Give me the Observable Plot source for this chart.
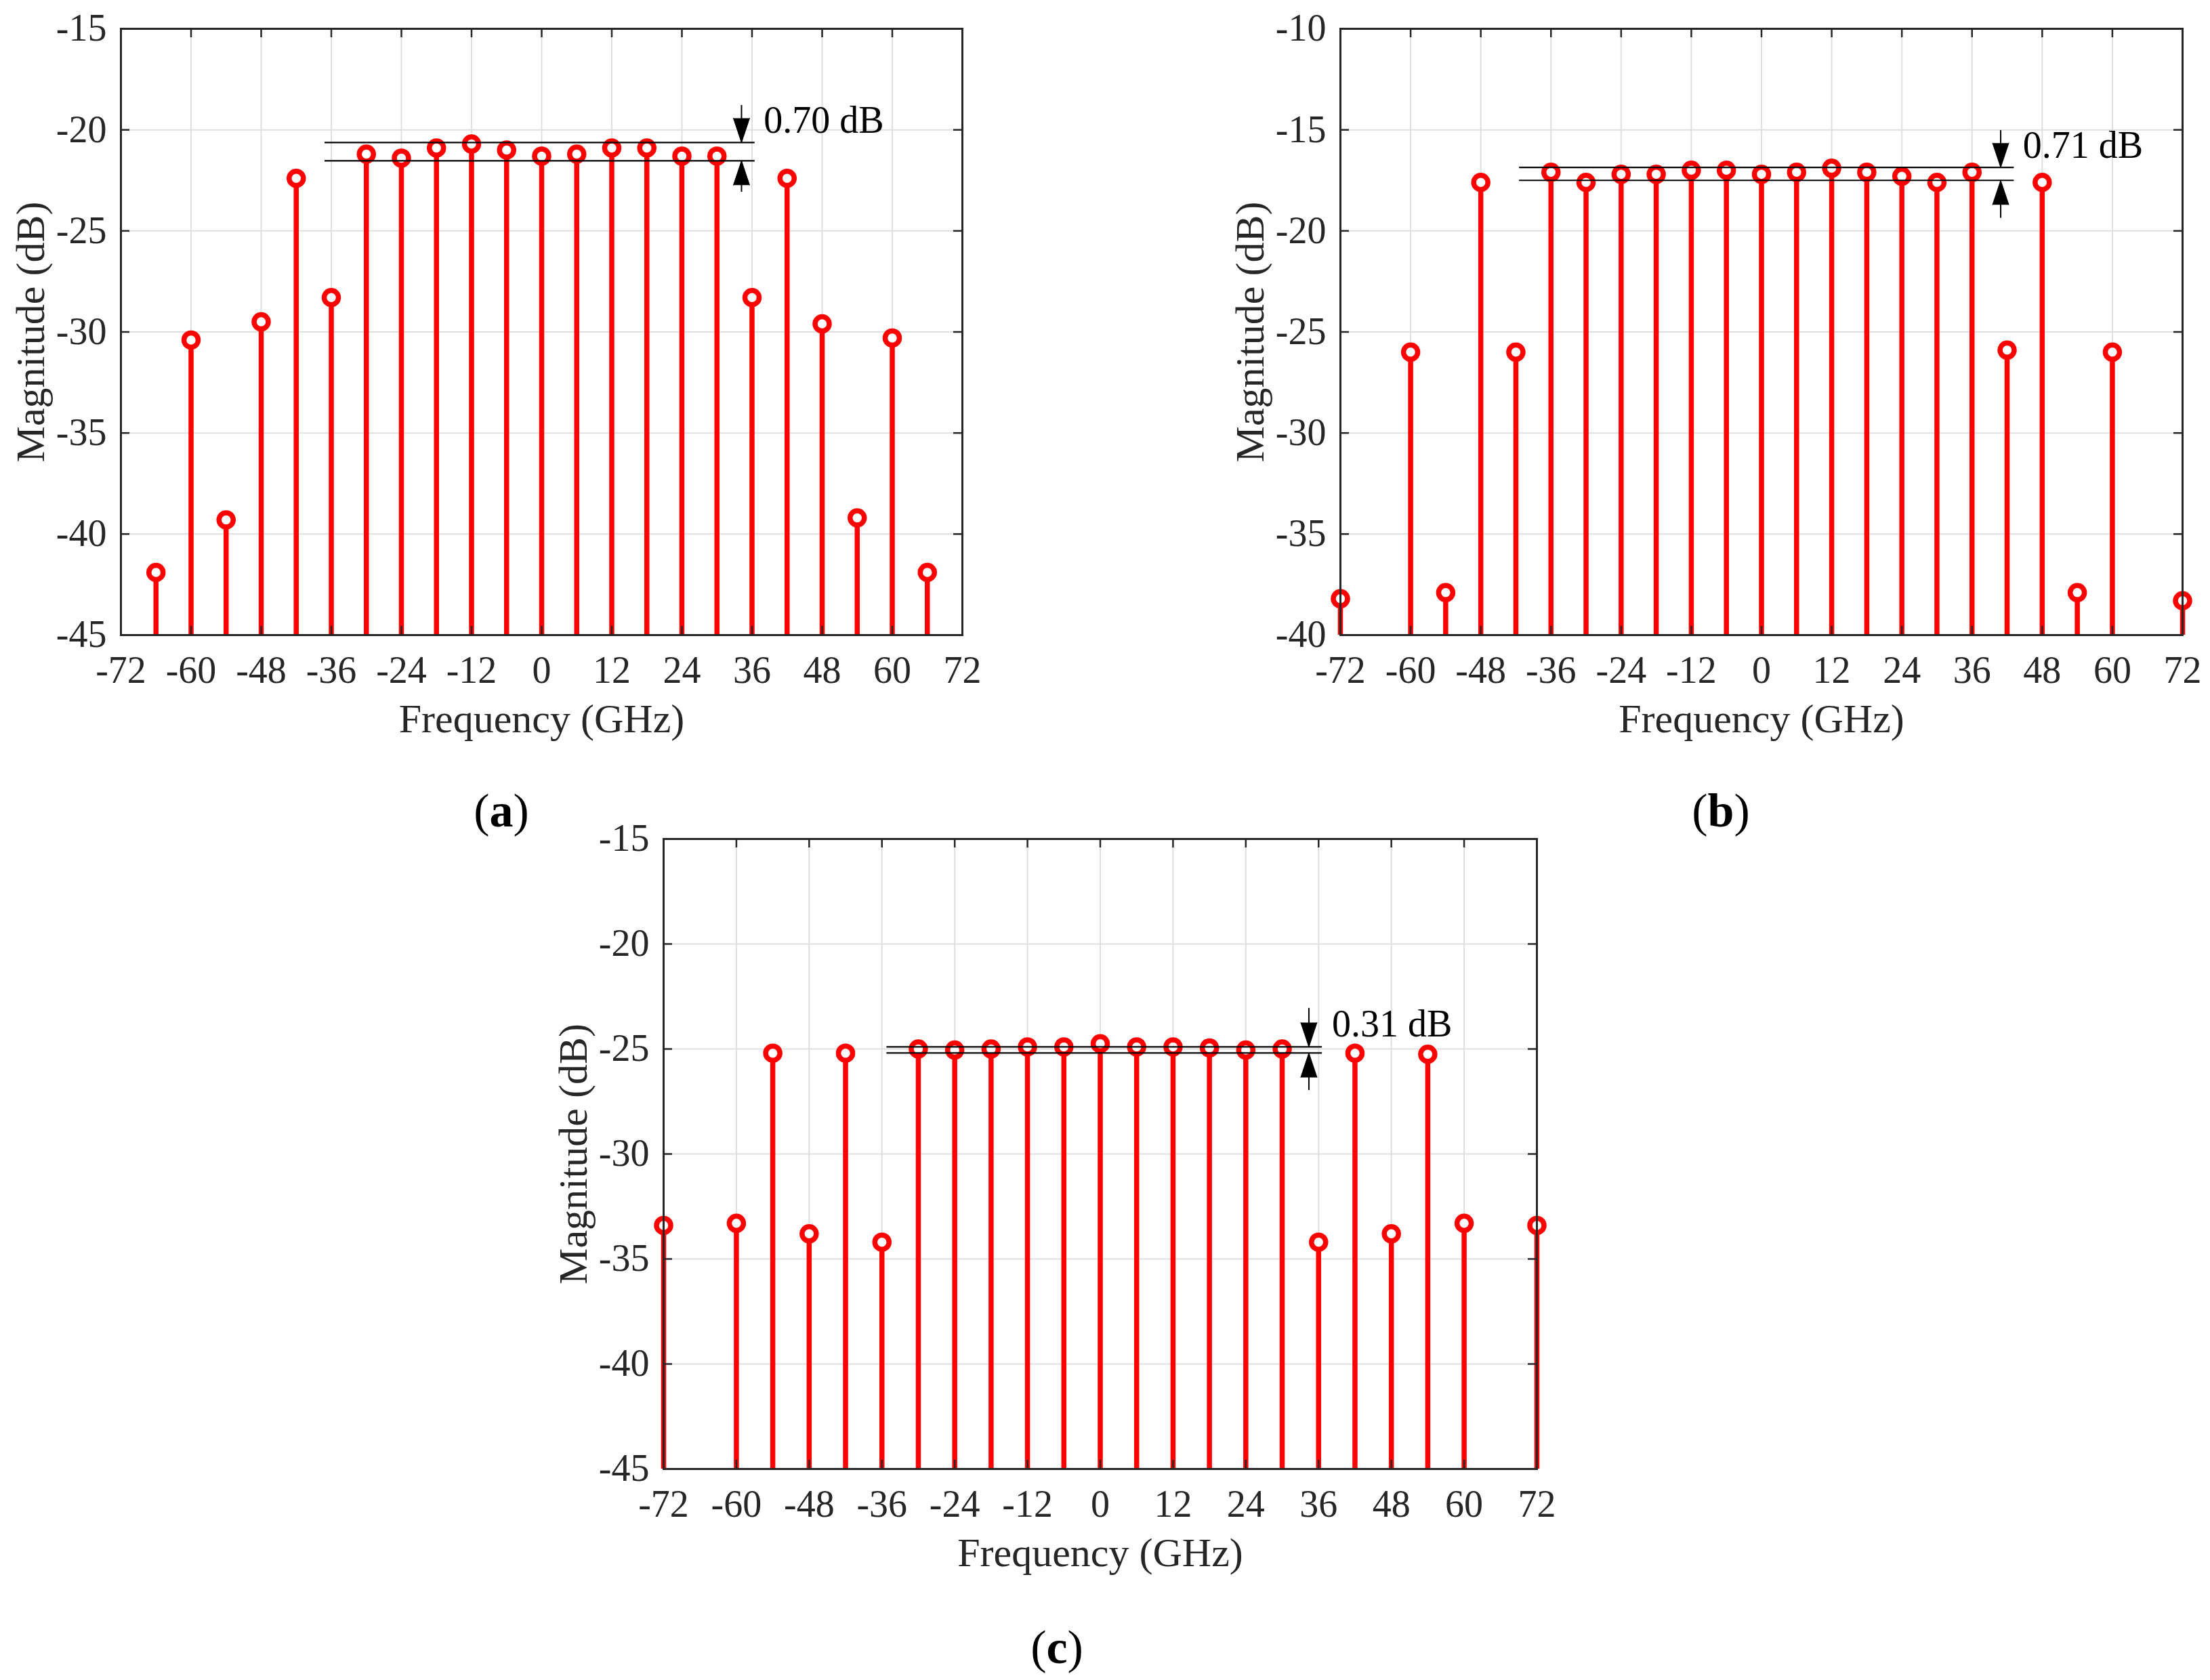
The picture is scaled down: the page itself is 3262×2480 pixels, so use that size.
<!DOCTYPE html>
<html>
<head>
<meta charset="utf-8">
<script src="https://cdn.jsdelivr.net/npm/d3@7"></script>
<script src="https://cdn.jsdelivr.net/npm/@observablehq/plot@0.6"></script>
<style>
  html, body { margin: 0; padding: 0; background: #fff; }
  #page { position: relative; width: 3262px; height: 2480px; background: #fff; overflow: hidden;
          font-family: "Liberation Serif", "Times New Roman", serif; }
  .panel { position: absolute; }
  .cap { position: absolute; font-size: 70px; color: #000; transform: translate(-50%, -50%);
         white-space: nowrap; font-family: "Liberation Serif", "Times New Roman", serif; line-height: 1; }
  .cap b { font-weight: bold; }
</style>
</head>
<body>
<div id="page"></div>
<script>
// ---------- data ----------
const xTicks = [-72, -60, -48, -36, -24, -12, 0, 12, 24, 36, 48, 60, 72];

const freqA = [-66, -60, -54, -48, -42, -36, -30, -24, -18, -12, -6, 0, 6, 12, 18, 24, 30, 36, 42, 48, 54, 60, 66];
const magA  = [-41.9, -30.4, -39.3, -29.5, -22.4, -28.3, -21.2, -21.4, -20.9, -20.7, -21.0, -21.3, -21.2, -20.9, -20.9, -21.3, -21.3, -28.3, -22.4, -29.6, -39.2, -30.3, -41.9];
const yTicksA = [-45, -40, -35, -30, -25, -20, -15];

const freqB = [-72, -60, -54, -48, -42, -36, -30, -24, -18, -12, -6, 0, 6, 12, 18, 24, 30, 36, 42, 48, 54, 60, 72];
const magB  = [-38.2, -26.0, -37.9, -17.6, -26.0, -17.1, -17.6, -17.2, -17.2, -17.0, -17.0, -17.2, -17.1, -16.9, -17.1, -17.3, -17.6, -17.1, -25.9, -17.6, -37.9, -26.0, -38.3];
const yTicksB = [-40, -35, -30, -25, -20, -15, -10];

const freqC = [-72, -60, -54, -48, -42, -36, -30, -24, -18, -12, -6, 0, 6, 12, 18, 24, 30, 36, 42, 48, 54, 60, 72];
const magC  = [-33.4, -33.3, -25.2, -33.8, -25.2, -34.2, -25.0, -25.05, -25.0, -24.9, -24.9, -24.75, -24.9, -24.9, -24.95, -25.05, -25.0, -34.2, -25.2, -33.8, -25.25, -33.3, -33.4];
const yTicksC = [-45, -40, -35, -30, -25, -20, -15];

// ripple annotations: [upper level, lower level], line span, arrow x + tail ends, label
const levelsA = [-20.63, -21.53]; const spanA = [-37.1, 36.5]; const arrowA = [34.2, -18.79, -23.08]; const labelA = ["0.70 dB", 38.0, -19.56];
const levelsB = [-16.86, -17.50]; const spanB = [-41.4, 43.2]; const arrowB = [40.9, -15.03, -19.37]; const labelB = ["0.71 dB", 44.7, -15.8];
const levelsC = [-24.90, -25.19]; const spanC = [-35.2, 36.6]; const arrowC = [34.4, -23.06, -26.97]; const labelC = ["0.31 dB", 38.2, -23.84];

const captions = ["a", "b", "c"];

// ---------- drawing ----------
const RED = "#ff0000", INK = "#262626", GRID = "#dfdfdf";
const FONT = "Liberation Serif, Times New Roman, serif";

function panel(o) {
  const data = o.freq.map((f, i) => ({f, m: o.mag[i]}));
  const yMin = o.yTicks[0], yMax = o.yTicks[o.yTicks.length - 1];
  const mL = 190, mR = 70, mT = 60, mB = 170;
  const heads = [
    {x: o.arrow[0], y: o.levels[0], rot: 180},
    {x: o.arrow[0], y: o.levels[1], rot: 0}
  ];
  const chart = Plot.plot({
    width: mL + o.fw + mR,
    height: mT + o.fh + mB,
    marginLeft: mL, marginRight: mR, marginTop: mT, marginBottom: mB,
    style: {fontFamily: FONT, background: "white", color: INK, overflow: "visible"},
    x: {domain: [-72, 72], label: null},
    y: {domain: [yMin, yMax], label: null},
    marks: [
      Plot.gridX(xTicks, {stroke: GRID, strokeOpacity: 1, strokeWidth: 2}),
      Plot.gridY(o.yTicks, {stroke: GRID, strokeOpacity: 1, strokeWidth: 2}),
      Plot.ruleX(data, {x: "f", y1: yMin, y2: "m", stroke: RED, strokeWidth: 7.5}),
      Plot.dot(data, {x: "f", y: "m", r: 10.5, stroke: RED, strokeWidth: 7.5, fill: "white"}),
      // inward ticks on all four sides
      Plot.tickX(xTicks, {x: d => d, insetTop: o.fh - 13, stroke: INK, strokeWidth: 2.5}),
      Plot.tickX(xTicks, {x: d => d, insetBottom: o.fh - 13, stroke: INK, strokeWidth: 2.5}),
      Plot.tickY(o.yTicks, {y: d => d, insetRight: o.fw - 13, stroke: INK, strokeWidth: 2.5}),
      Plot.tickY(o.yTicks, {y: d => d, insetLeft: o.fw - 13, stroke: INK, strokeWidth: 2.5}),
      Plot.frame({stroke: INK, strokeWidth: 3}),
      // ripple annotation
      Plot.ruleY(o.levels, {y: d => d, x1: o.span[0], x2: o.span[1], stroke: "black", strokeWidth: 2.2}),
      Plot.ruleX([o.arrow], {x: d => d[0], y1: d => d[1], y2: () => o.levels[0], stroke: "black", strokeWidth: 2}),
      Plot.ruleX([o.arrow], {x: d => d[0], y1: () => o.levels[1], y2: d => d[2], stroke: "black", strokeWidth: 2}),
      Plot.vector(heads, {x: "x", y: "y", rotate: "rot", length: 36, anchor: "end", shape: "spike", r: 12, fill: "black", stroke: "black", strokeWidth: 1}),
      Plot.text([o.label], {x: d => d[1], y: d => d[2], text: d => d[0], textAnchor: "start", lineAnchor: "middle", fontSize: 56, fill: "black"}),
      // axes
      Plot.axisX({ticks: xTicks, tickSize: 0, tickPadding: 31, tickFormat: d => String(d), fontSize: 56, fill: INK, label: null}),
      Plot.axisY({ticks: o.yTicks, tickSize: 0, tickPadding: 21, tickFormat: d => String(d), fontSize: 56, fill: INK, label: null}),
      Plot.text(["Frequency (GHz)"], {frameAnchor: "bottom", dy: 124, text: d => d, fontSize: 60, fill: INK, textAnchor: "middle", lineAnchor: "middle"}),
      Plot.text(["Magnitude (dB)"], {frameAnchor: "left", dx: -133, rotate: -90, text: d => d, fontSize: 60, fill: INK, textAnchor: "middle", lineAnchor: "middle"})
    ]
  });
  chart.classList.add("panel");
  chart.style.left = (o.left - mL) + "px";
  chart.style.top = (o.top - mT) + "px";
  return chart;
}

const page = document.getElementById("page");
page.appendChild(panel({freq: freqA, mag: magA, yTicks: yTicksA, levels: levelsA, span: spanA, arrow: arrowA, label: labelA,
                        left: 178, top: 42, fw: 1242, fh: 895}));
page.appendChild(panel({freq: freqB, mag: magB, yTicks: yTicksB, levels: levelsB, span: spanB, arrow: arrowB, label: labelB,
                        left: 1978, top: 42, fw: 1243, fh: 895}));
page.appendChild(panel({freq: freqC, mag: magC, yTicks: yTicksC, levels: levelsC, span: spanC, arrow: arrowC, label: labelC,
                        left: 979, top: 1238, fw: 1289, fh: 930}));

const capPos = [[740, 1197], [2540, 1197], [1560, 2432]];
captions.forEach((c, i) => {
  const d = document.createElement("div");
  d.className = "cap";
  d.style.left = capPos[i][0] + "px";
  d.style.top = capPos[i][1] + "px";
  d.innerHTML = "(<b>" + c + "</b>)";
  page.appendChild(d);
});
</script>
</body>
</html>
